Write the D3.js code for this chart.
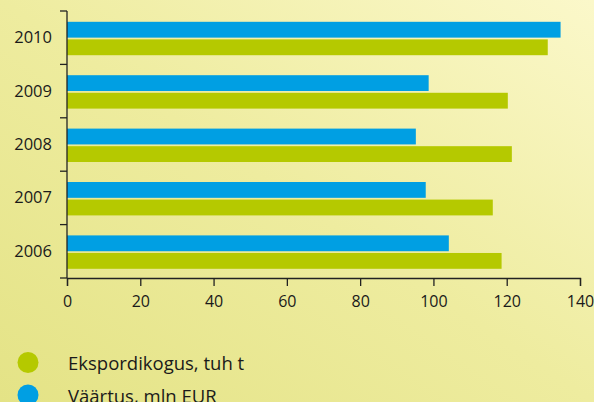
<!DOCTYPE html>
<html><head><meta charset="utf-8">
<script src="https://cdn.jsdelivr.net/npm/d3@7"></script>
<style>html,body{margin:0;padding:0;overflow:hidden;}</style>
</head><body>
<svg id="c" width="594" height="402"></svg>
<script>
const years = ["2010","2009","2008","2007","2006"];
const valueMlnEur = [134.7, 98.7, 95.2, 97.9, 104.2];
const exportVolume = [131.2, 120.3, 121.4, 116.2, 118.6];
const xTicks = [0,20,40,60,80,100,120,140];
const legendLabels = ["Ekspordikogus, tuh t", "Väärtus, mln EUR"];
const colors = {blue:"#009fe3", green:"#b5c900"};

const svg = d3.select("#c");
const W=594,H=402;
const defs = svg.append("defs");
const g0 = defs.append("linearGradient").attr("id","bg").attr("x1","0").attr("y1","1").attr("x2","1").attr("y2","0");
g0.append("stop").attr("offset","0").attr("stop-color","#e4e386");
g0.append("stop").attr("offset","0.5").attr("stop-color","#eeec9f");
g0.append("stop").attr("offset","1").attr("stop-color","#fbf8ca");
svg.append("rect").attr("width",W).attr("height",H).attr("fill","url(#bg)");

const font = "'Open Sans', sans-serif";
const x = d3.scaleLinear().domain([0,140]).range([67,580]);
const y = d3.scaleBand().domain(years).range([11,278]).paddingInner(0).paddingOuter(0);
const inner = d3.scaleBand().domain(["v","e"]).range([10.8, 44.2]).paddingInner(0.1);

const grp = svg.selectAll("g.yr").data(years).enter().append("g").attr("transform",d=>`translate(0,${y(d)})`);
grp.append("rect").attr("x",x(0)).attr("y",inner("v")).attr("height",inner.bandwidth())
  .attr("width",(d,i)=>x(valueMlnEur[i])-x(0)).attr("fill",colors.blue);
grp.append("rect").attr("x",x(0)).attr("y",inner("e")).attr("height",inner.bandwidth())
  .attr("width",(d,i)=>x(exportVolume[i])-x(0)).attr("fill",colors.green);

// y axis
const yAxisG = svg.append("g").attr("transform",`translate(${x(0)},0)`);
yAxisG.append("line").attr("x1",0).attr("x2",0).attr("y1",y.range()[0]).attr("y2",y.range()[1]).attr("stroke","#222").attr("stroke-width",1.3);
const yb = years.map(d=>y(d)).concat([y.range()[1]]);
yAxisG.selectAll("line.t").data(yb).enter().append("line").attr("x1",-7).attr("x2",0).attr("y1",d=>d).attr("y2",d=>d).attr("stroke","#222").attr("stroke-width",1.3);
yAxisG.selectAll("text").data(years).enter().append("text").attr("x",-15).attr("y",d=>y(d)+y.bandwidth()/2-1)
  .attr("text-anchor","end").attr("dominant-baseline","central").attr("font-family",font).attr("font-size",16.5).attr("fill","#1a1a1a").text(d=>d);

// x axis
const xAxis = d3.axisBottom(x).tickValues(xTicks).tickSize(8).tickPadding(10).tickFormat(d3.format("d"));
const xg = svg.append("g").attr("transform",`translate(0,${y.range()[1]})`).call(xAxis);
xg.select(".domain").attr("stroke","#222").attr("stroke-width",1.3);
xg.selectAll(".tick line").attr("stroke","#222").attr("stroke-width",1.3);
xg.selectAll(".tick text").attr("font-family",font).attr("font-size",16).attr("fill","#1a1a1a");

// legend
const leg = svg.selectAll("g.leg").data(legendLabels).enter().append("g").attr("transform",(d,i)=>`translate(28,${362.5+i*32.5})`);
leg.append("circle").attr("r",10.5).attr("fill",(d,i)=>i===0?colors.green:colors.blue);
leg.append("text").attr("x",40).attr("y",0).attr("dominant-baseline","central").attr("font-family",font).attr("font-size",18.5).attr("fill","#1a1a1a").text(d=>d);
</script>
</body></html>
